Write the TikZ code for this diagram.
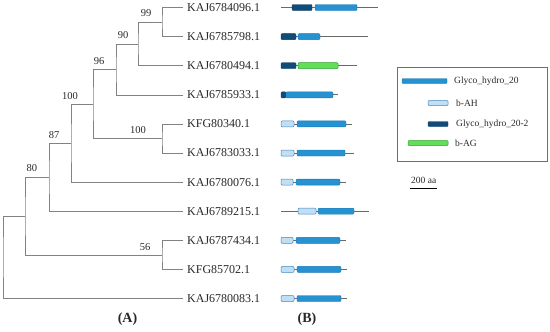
\documentclass[tikz,border=0pt]{standalone}
\usepackage{fontspec}
\setmainfont{Liberation Serif}
\definecolor{txt}{RGB}{40,40,40}
\definecolor{treec}{RGB}{130,130,130}
\definecolor{bbc}{RGB}{105,105,105}
\definecolor{ghfill}{RGB}{38,146,210}
\definecolor{ghdraw}{RGB}{28,118,178}
\definecolor{ahfill}{RGB}{192,222,244}
\definecolor{ahdraw}{RGB}{70,135,190}
\definecolor{dkfill}{RGB}{16,76,122}
\definecolor{dkdraw}{RGB}{10,58,98}
\definecolor{agfill}{RGB}{98,222,88}
\definecolor{agdraw}{RGB}{48,160,48}
\definecolor{legc}{RGB}{110,110,110}
\begin{document}
\begin{tikzpicture}[x=1pt,y=-1pt,
  leaf/.style={anchor=west,inner xsep=4pt,inner ysep=1pt,font=\fontsize{12}{13}\selectfont,text=txt},
  sup/.style={inner sep=0pt,font=\fontsize{10.5}{12}\selectfont,text=txt},
  branch/.style={draw=treec,line width=0.6pt},
  bb/.style={draw=bbc,line width=0.8pt},
  gh/.style={fill=ghfill,draw=ghdraw,line width=0.4pt,rounded corners=1pt},
  ah/.style={fill=ahfill,draw=ahdraw,line width=0.5pt,rounded corners=1pt},
  dk/.style={fill=dkfill,draw=dkdraw,line width=0.4pt,rounded corners=1pt},
  ag/.style={fill=agfill,draw=agdraw,line width=0.5pt,rounded corners=1pt},
  legt/.style={anchor=west,inner xsep=2pt,inner ysep=1pt,font=\fontsize{9.5}{11}\selectfont,text=txt},
  panel/.style={font=\bfseries\fontsize{14}{15}\selectfont,text=txt}
]
\useasboundingbox (0,0) rectangle (550,332);

% ---------- leaves ----------
\node[leaf] (l1)  at (183,7.5)   {KAJ6784096.1};
\node[leaf] (l2)  at (183,36.6)  {KAJ6785798.1};
\node[leaf] (l3)  at (183,65.7)  {KAJ6780494.1};
\node[leaf] (l4)  at (183,94.8)  {KAJ6785933.1};
\node[leaf] (l5)  at (183,123.9) {KFG80340.1};
\node[leaf] (l6)  at (183,153)   {KAJ6783033.1};
\node[leaf] (l7)  at (183,182.1) {KAJ6780076.1};
\node[leaf] (l8)  at (183,211.2) {KAJ6789215.1};
\node[leaf] (l9)  at (183,240.3) {KAJ6787434.1};
\node[leaf] (l10) at (183,269.4) {KFG85702.1};
\node[leaf] (l11) at (183,298.5) {KAJ6780083.1};

% ---------- internal nodes ----------
\coordinate (n99)  at (162,22);
\coordinate (n90)  at (138,43.9);
\coordinate (n96)  at (116,69.3);
\coordinate (nB)   at (162,138.5);
\coordinate (nA)   at (93,103.9);
\coordinate (n87)  at (71,143);
\coordinate (n80)  at (49,177.1);
\coordinate (n56)  at (162,254.9);
\coordinate (nX)   at (25,216);
\coordinate (root) at (3,257.2);

\draw[branch] (l1.west) -| (n99) |- (l2.west);
\draw[branch] (n99) -| (n90) |- (l3.west);
\draw[branch] (n90) -| (n96) |- (l4.west);
\draw[branch] (l5.west) -| (nB) |- (l6.west);
\draw[branch] (n96) -| (nA) |- (nB);
\draw[branch] (nA) -| (n87) |- (l7.west);
\draw[branch] (n87) -| (n80) |- (l8.west);
\draw[branch] (l9.west) -| (n56) |- (l10.west);
\draw[branch] (n80) -| (nX) |- (n56);
\draw[branch] (nX) -| (root) |- (l11.west);

% ---------- support values ----------
\node[sup] (s99)  at (146,13)  {99};
\node[sup] (s90)  at (123,35)  {90};
\node[sup] (s96)  at (99,61)   {96};
\node[sup] (s100b) at (138,130) {100};
\node[sup] (s100a) at (70,96)  {100};
\node[sup] (s87)  at (54,135)  {87};
\node[sup] (s80)  at (32,168)  {80};
\node[sup] (s56)  at (145,247) {56};

% ---------- domain architectures ----------
% row 1
\draw[bb] (281,7.5) -- (378,7.5);
\draw[dk] (292,4.5) rectangle (312,10.5);
\draw[gh] (315,4.5) rectangle (357,10.5);
% row 2
\draw[bb] (281,36.6) -- (368,36.6);
\draw[dk] (281,33.6) rectangle (296,39.6);
\draw[gh] (298,33.6) rectangle (320,39.6);
% row 3
\draw[bb] (281,65.7) -- (357,65.7);
\draw[dk] (281,62.7) rectangle (296,68.7);
\draw[ag] (298,62.7) rectangle (338,68.7);
% row 4
\draw[bb] (281,94.8) -- (338,94.8);
\draw[dk] (281,91.8) rectangle (286,97.8);
\draw[gh] (286,91.8) rectangle (333,97.8);
% row 5
\draw[bb] (281,123.9) -- (352,123.9);
\draw[ah] (281,120.9) rectangle (294,126.9);
\draw[gh] (297,120.9) rectangle (346,126.9);
% row 6
\draw[bb] (281,153) -- (354,153);
\draw[ah] (281,150) rectangle (294,156);
\draw[gh] (297,150) rectangle (345,156);
% row 7
\draw[bb] (281,182.1) -- (346,182.1);
\draw[ah] (281,179.1) rectangle (293,185.1);
\draw[gh] (296,179.1) rectangle (340,185.1);
% row 8
\draw[bb] (281,211.2) -- (369,211.2);
\draw[ah] (298,208.2) rectangle (316,214.2);
\draw[gh] (318,208.2) rectangle (354,214.2);
% row 9
\draw[bb] (281,240.3) -- (346,240.3);
\draw[ah] (281,237.3) rectangle (293,243.3);
\draw[gh] (296,237.3) rectangle (340,243.3);
% row 10
\draw[bb] (281,269.4) -- (347,269.4);
\draw[ah] (281,266.4) rectangle (294,272.4);
\draw[gh] (297,266.4) rectangle (341,272.4);
% row 11
\draw[bb] (281,298.5) -- (347,298.5);
\draw[ah] (281,295.5) rectangle (294,301.5);
\draw[gh] (297,295.5) rectangle (341,301.5);

% ---------- legend ----------
\node[draw=legc,line width=0.7pt,anchor=north west,minimum width=150pt,minimum height=94pt,inner sep=0pt] (legend) at (397,67) {};
\draw[gh] (402,78.5) rectangle (447,83.5);
\node[legt] (t1) at (452,81) {Glyco\_hydro\_20};
\draw[ah] (428,100.5) rectangle (448,105.5);
\node[legt] (t2) at (454,103) {b-AH};
\draw[dk] (428,121.5) rectangle (448,126.5);
\node[legt] (t3) at (454,124) {Glyco\_hydro\_20-2};
\draw[ag] (408,140.5) rectangle (448,145.5);
\node[legt] (t4) at (453,143) {b-AG};

% ---------- scale bar ----------
\node[legt] (scale) at (409,180) {200 aa};
\draw[line width=1pt,black] (410,188) -- (437,188);

% ---------- panel labels ----------
\node[panel] (pA) at (127.5,319) {(A)};
\node[panel] (pB) at (307,319) {(B)};
\end{tikzpicture}
\end{document}
